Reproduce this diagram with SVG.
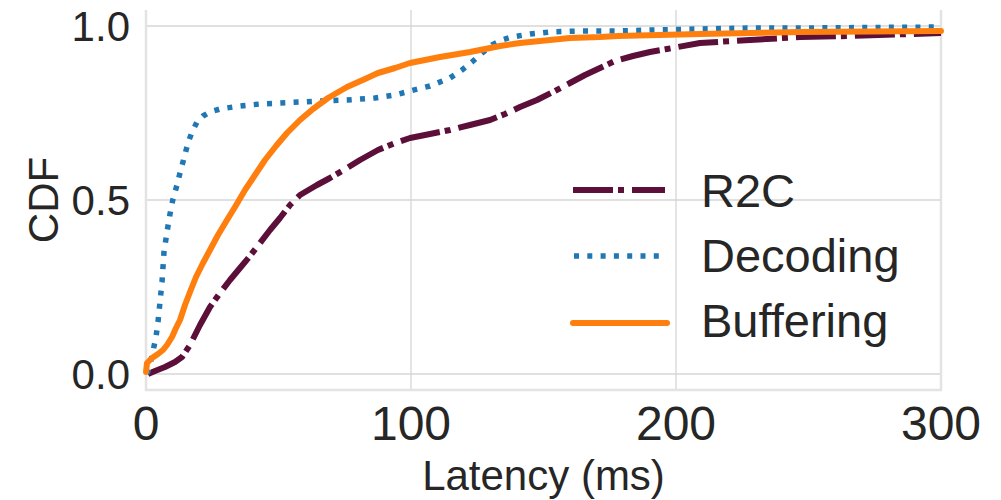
<svg xmlns="http://www.w3.org/2000/svg" width="1001" height="500" viewBox="0 0 1001 500">
  <style>
    text { font-family: "Liberation Sans", Arial, sans-serif; fill: #262626; }
    .grid { stroke: #d6d6d6; stroke-width: 1.3; fill: none; }
    .spine { stroke: #e3e3e3; stroke-width: 2.5; fill: none; }
    .ytick { font-size: 42px; text-anchor: end; }
    .xtick { font-size: 48px; text-anchor: middle; }
    .leg { font-size: 47px; }
    .r2c { stroke: #5c0f38; stroke-width: 6; fill: none; stroke-dasharray: 40 5 6 8; stroke-linejoin: round; }
    .dec { stroke: #1f77b4; stroke-width: 5.5; fill: none; stroke-dasharray: 5 8.3; stroke-linejoin: round; }
    .buf { stroke: #ff7f0e; stroke-width: 6; fill: none; stroke-linecap: round; stroke-linejoin: round; }
  </style>
  <defs>
    <clipPath id="plotArea">
      <rect x="143" y="8" width="801" height="382"/>
    </clipPath>
  </defs>
  <rect width="1001" height="500" fill="#ffffff"/>

  <!-- grid -->
  <g id="grid">
    <line class="grid" x1="146" y1="26" x2="941" y2="26"/>
    <line class="grid" x1="146" y1="200" x2="941" y2="200"/>
    <line class="grid" x1="146" y1="374" x2="941" y2="374"/>
    <line class="grid" x1="411" y1="10" x2="411" y2="390"/>
    <line class="grid" x1="676" y1="10" x2="676" y2="390"/>
  </g>

  <!-- axes frame -->
  <g id="spines">
    <line class="spine" x1="146" y1="10" x2="146" y2="391"/>
    <line class="spine" x1="941" y1="10" x2="941" y2="391"/>
    <line class="spine" x1="145" y1="390" x2="942" y2="390"/>
  </g>

  <!-- CDF curves -->
  <g id="connectors" clip-path="url(#plotArea)">
    <polyline id="curve-r2c" class="r2c" points="148,374 155,371 165,367 175,362 182,357 190,345 200,325 210,307 220,293 230,280 240,268 250,256 260,243 270,230 280,218 290,205 300,195 317,185 330,178 347,168 360,160 378,150 395,143 410,138 430,134 450,130 470,125 490,120 505,114 520,107 537,100 555,91 570,83 585,75 600,68 615,61 633,56 650,52 667,49 700,43 750,40 800,37 850,36 941,33"/>
    <polyline id="curve-decoding" class="dec" points="147,374 150,365 153,351 156,337 158,322 160,302 162,282 164,252 167,232 170,214 173,199 177,185 180,173 184,158 188,143 192,132 197,122 203,116 210,112 220,109 240,106 260,104 280,103 300,102 320,101 347,100 375,98 395,95 410,91 430,86 450,78 462,70 472,62 482,53 492,45 502,40 512,37 530,34 550,32 580,31 617,31 650,30 700,29 750,28 800,28 941,27"/>
    <polyline id="curve-buffering" class="buf" points="146,372 147,363 152,358 158,354 163,350 167,345 172,337 176,328 180,320 185,305 190,292 196,277 203,263 210,250 218,235 227,220 235,207 245,190 255,175 265,160 276,146 287,133 300,120 313,109 328,98 347,87 365,79 378,73 395,68 410,63 440,57 470,52 500,46 520,43 550,40 570,38 600,37 618,36 700,34 800,32 941,31"/>
  </g>

  <!-- tick labels -->
  <g id="yticks">
    <text class="ytick" x="130" y="41">1.0</text>
    <text class="ytick" x="130" y="215">0.5</text>
    <text class="ytick" x="130" y="389">0.0</text>
  </g>
  <g id="xticks">
    <text class="xtick" x="146" y="440">0</text>
    <text class="xtick" x="411" y="440">100</text>
    <text class="xtick" x="676" y="440">200</text>
    <text class="xtick" x="941" y="440">300</text>
  </g>

  <!-- axis titles -->
  <g id="xlabel">
    <text x="543.5" y="490" font-size="42" text-anchor="middle">Latency (ms)</text>
  </g>
  <g id="ylabel">
    <text x="58" y="200" font-size="42" text-anchor="middle" transform="rotate(-90 58 200)">CDF</text>
  </g>

  <!-- legend -->
  <g id="legend">
    <g id="legend-r2c">
      <line class="r2c" x1="573" y1="190" x2="665" y2="190"/>
      <text class="leg" x="701" y="207">R2C</text>
    </g>
    <g id="legend-decoding">
      <line class="dec" x1="574" y1="256" x2="666" y2="256"/>
      <text class="leg" x="701" y="272">Decoding</text>
    </g>
    <g id="legend-buffering">
      <line class="buf" x1="573" y1="323" x2="667" y2="323"/>
      <text class="leg" x="701" y="337">Buffering</text>
    </g>
  </g>
</svg>
